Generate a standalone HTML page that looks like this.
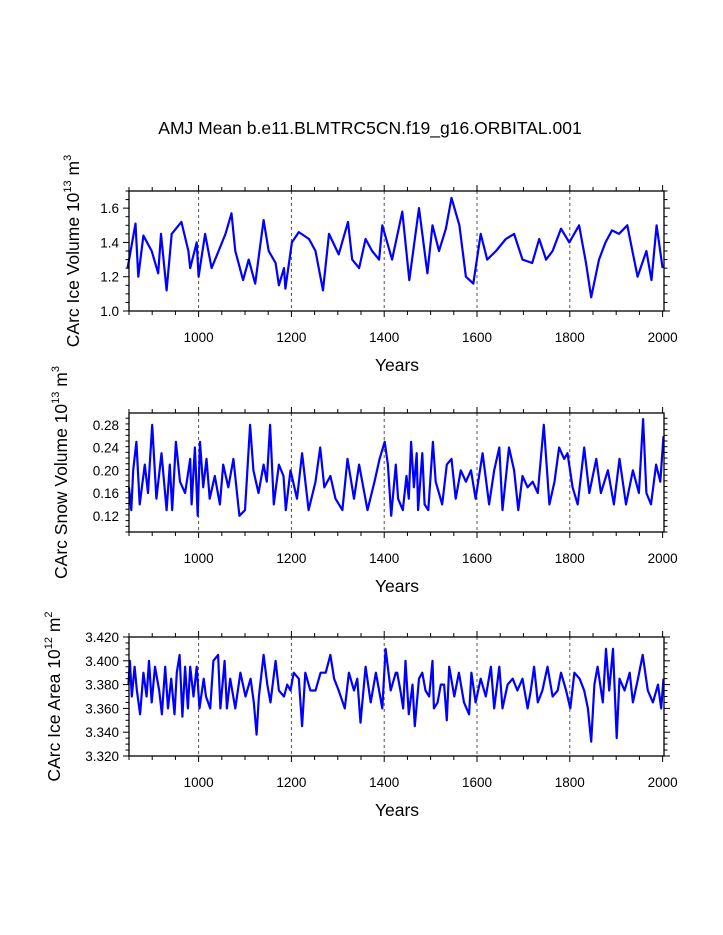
<!DOCTYPE html>
<html><head><meta charset="utf-8">
<style>
html,body{margin:0;padding:0;background:#fff;}
svg{display:block;font-family:"Liberation Sans",Arial,sans-serif;}
</style></head>
<body>
<svg id="chart" width="723" height="935" viewBox="0 0 723 935" xmlns="http://www.w3.org/2000/svg">
<rect x="0" y="0" width="723" height="935" fill="#fff"/>
<text x="370" y="134" font-size="17.5" text-anchor="middle" fill="#000">AMJ Mean b.e11.BLMTRC5CN.f19_g16.ORBITAL.001</text>
</svg>
<script>
// ---- Data: panel 1 (CArc Ice Volume) ----
const iceVolYears = [847,864,870,881,899,913,919,931,942,963,978,982,996,1000,1014,1028,1043,1058,1071,1079,1096,1108,1122,1140,1151,1166,1173,1184,1187,1201,1216,1238,1252,1268,1281,1302,1322,1331,1346,1360,1374,1389,1396,1417,1439,1454,1475,1493,1504,1518,1533,1545,1562,1576,1592,1608,1622,1641,1662,1680,1698,1719,1734,1749,1763,1781,1799,1820,1835,1846,1863,1877,1891,1906,1924,1935,1946,1965,1976,1987,2000];
const iceVolValues = [1.25,1.51,1.2,1.44,1.35,1.22,1.45,1.12,1.45,1.52,1.35,1.25,1.4,1.2,1.45,1.25,1.35,1.45,1.57,1.35,1.18,1.3,1.16,1.53,1.35,1.28,1.15,1.25,1.13,1.4,1.46,1.42,1.35,1.12,1.45,1.33,1.52,1.3,1.25,1.42,1.35,1.3,1.5,1.3,1.58,1.18,1.6,1.22,1.5,1.35,1.48,1.66,1.5,1.2,1.16,1.45,1.3,1.35,1.42,1.45,1.3,1.28,1.42,1.3,1.35,1.48,1.4,1.5,1.28,1.08,1.3,1.4,1.47,1.45,1.5,1.35,1.2,1.35,1.18,1.5,1.25];
// ---- Data: panel 2 (CArc Snow Volume) ----
const snowYears = [850,855,859,866,873,884,891,900,909,920,931,938,943,951,960,971,982,985,992,998,1003,1010,1017,1024,1035,1046,1053,1064,1075,1088,1100,1111,1118,1129,1140,1147,1154,1162,1173,1183,1188,1198,1212,1223,1237,1252,1262,1271,1284,1295,1310,1321,1335,1346,1364,1379,1390,1401,1408,1415,1425,1430,1440,1448,1453,1458,1464,1470,1473,1482,1487,1495,1505,1511,1525,1535,1545,1554,1565,1576,1587,1597,1612,1626,1637,1648,1655,1669,1680,1689,1698,1709,1720,1731,1744,1756,1767,1777,1788,1795,1806,1817,1831,1842,1857,1867,1882,1895,1907,1921,1936,1949,1958,1965,1975,1986,1995,2002];
const snowValues = [0.17,0.13,0.2,0.25,0.14,0.21,0.16,0.28,0.15,0.23,0.13,0.21,0.13,0.25,0.18,0.16,0.22,0.14,0.24,0.12,0.25,0.17,0.22,0.15,0.19,0.14,0.21,0.17,0.22,0.12,0.13,0.28,0.2,0.16,0.21,0.18,0.28,0.14,0.21,0.19,0.13,0.2,0.15,0.23,0.13,0.18,0.24,0.17,0.19,0.15,0.13,0.22,0.15,0.21,0.13,0.18,0.22,0.25,0.21,0.12,0.21,0.15,0.13,0.19,0.15,0.25,0.17,0.23,0.13,0.23,0.14,0.13,0.25,0.18,0.14,0.21,0.22,0.15,0.2,0.18,0.2,0.15,0.23,0.14,0.2,0.24,0.13,0.24,0.2,0.13,0.19,0.17,0.18,0.16,0.28,0.14,0.18,0.24,0.22,0.23,0.17,0.14,0.24,0.16,0.22,0.16,0.2,0.14,0.22,0.14,0.2,0.16,0.29,0.16,0.14,0.21,0.18,0.26];
// ---- Data: panel 3 (CArc Ice Area) ----
const areaYears = [849,852,856,862,867,874,881,888,893,899,906,915,921,928,934,941,948,953,959,965,971,977,982,989,996,1002,1011,1016,1025,1032,1042,1047,1056,1061,1068,1079,1090,1101,1112,1119,1125,1130,1140,1148,1155,1166,1173,1184,1191,1198,1205,1216,1223,1230,1241,1252,1263,1274,1284,1292,1302,1315,1324,1335,1342,1349,1360,1371,1382,1396,1403,1414,1425,1428,1435,1441,1446,1453,1461,1466,1475,1482,1489,1497,1504,1507,1515,1522,1529,1535,1540,1551,1561,1572,1583,1588,1597,1608,1619,1630,1637,1648,1655,1666,1677,1687,1698,1709,1716,1723,1731,1741,1752,1763,1774,1781,1792,1801,1810,1821,1831,1839,1846,1853,1860,1871,1878,1885,1893,1901,1907,1918,1929,1936,1947,1957,1968,1979,1990,1997,2002];
const areaValues = [3.38,3.40,3.37,3.395,3.375,3.355,3.39,3.37,3.40,3.365,3.395,3.375,3.355,3.395,3.36,3.385,3.355,3.39,3.405,3.353,3.395,3.36,3.395,3.37,3.395,3.36,3.385,3.37,3.36,3.40,3.405,3.36,3.40,3.36,3.385,3.36,3.39,3.37,3.385,3.365,3.338,3.37,3.405,3.38,3.365,3.40,3.375,3.37,3.38,3.375,3.39,3.385,3.345,3.39,3.375,3.375,3.39,3.39,3.405,3.385,3.375,3.36,3.39,3.375,3.385,3.348,3.395,3.365,3.39,3.36,3.41,3.375,3.39,3.39,3.375,3.36,3.40,3.355,3.38,3.345,3.385,3.39,3.375,3.37,3.40,3.36,3.365,3.38,3.38,3.35,3.395,3.37,3.39,3.365,3.355,3.39,3.365,3.385,3.37,3.395,3.36,3.395,3.36,3.38,3.385,3.375,3.385,3.36,3.375,3.395,3.365,3.375,3.395,3.37,3.375,3.39,3.375,3.36,3.39,3.385,3.375,3.36,3.332,3.38,3.395,3.365,3.41,3.375,3.41,3.335,3.385,3.375,3.39,3.365,3.385,3.405,3.375,3.365,3.38,3.36,3.385];
const xTickLabels = [1000,1200,1400,1600,1800,2000];
const iceVolTicks = ["1.0","1.2","1.4","1.6"];
const snowTicks = ["0.12","0.16","0.20","0.24","0.28"];
const areaTicks = ["3.320","3.340","3.360","3.380","3.400","3.420"];

const NS = "http://www.w3.org/2000/svg";
const svg = document.getElementById('chart');
function mk(tag, attrs, parent){ const e=document.createElementNS(NS,tag); for(const k in attrs) e.setAttribute(k,attrs[k]); (parent||svg).appendChild(e); return e; }

const X0=129, X1=664, YR0=850, YR1=2003;
function xs(yr){ return X0 + (yr-YR0)/(YR1-YR0)*(X1-X0); }

function panel(cfg){
  const g = mk('g',{});
  
  
  const ys = v => cfg.bot - (v-cfg.ymin)/(cfg.ymax-cfg.ymin)*(cfg.bot-cfg.top);
  xTickLabels.slice(0,5).forEach(t=>{
    const l = mk('line',{x1:xs(t),x2:xs(t),y1:cfg.top,y2:cfg.bot,stroke:'#555','stroke-width':1,'stroke-dasharray':'3,3'},g);
    
    
  });
  let d='';
  cfg.years.forEach((yr,i)=>{ d += (i?'L':'M')+xs(yr).toFixed(1)+','+ys(cfg.values[i]).toFixed(1); });
  const p = mk('path',{d:d,fill:'none',stroke:'#0000ff','stroke-width':2.2,'stroke-linejoin':'round'},g);
  
  
  const fr = mk('rect',{x:X0,y:cfg.top,width:X1-X0,height:cfg.bot-cfg.top,fill:'none',stroke:'#000','stroke-width':1.3},g);
  
  
  for(let yr=850; yr<=2000; yr+=50){
    const major = yr%200===0;
    const L = major?6:4;
    mk('line',{x1:xs(yr),x2:xs(yr),y1:cfg.bot,y2:cfg.bot+L,stroke:'#000','stroke-width':1},g);
    mk('line',{x1:xs(yr),x2:xs(yr),y1:cfg.top,y2:cfg.top-L,stroke:'#000','stroke-width':1},g);
  }
  xTickLabels.forEach(t=>{
    const tx = mk('text',{x:xs(t),y:cfg.bot+31,'font-size':13.5,'text-anchor':'middle'},g);
    tx.textContent = t;
    
    
  });
  const xt = mk('text',{x:397,y:cfg.bot+60,'font-size':17.5,'text-anchor':'middle'},g);
  xt.textContent='Years';
  
  
  for(let v=cfg.ymin; v<=cfg.ymax+1e-9; v+=cfg.minor){
    const isMajor = Math.abs(((v-cfg.majorStart)/cfg.major) - Math.round((v-cfg.majorStart)/cfg.major))<1e-6 && v>=cfg.majorStart-1e-9;
    const L = isMajor?6:3.5;
    mk('line',{x1:X0,x2:X0-L,y1:ys(v),y2:ys(v),stroke:'#000','stroke-width':1},g);
    mk('line',{x1:X1,x2:X1+L,y1:ys(v),y2:ys(v),stroke:'#000','stroke-width':1},g);
  }
  cfg.ticks.forEach(t=>{
    const tx = mk('text',{x:X0-10,y:ys(parseFloat(t))+5,'font-size':13.5,'text-anchor':'end'},g);
    tx.textContent=t;
    
    
  });
  const cy=(cfg.top+cfg.bot)/2;
  const yt = mk('text',{x:0,y:0,'font-size':17.5,'text-anchor':'middle',transform:'translate('+cfg.titleX+','+cy+') rotate(-90)'},g);
  
  
  yt.innerHTML = cfg.title+' 10<tspan font-size="11" dy="-8">'+cfg.exp+'</tspan><tspan dy="8"> m</tspan><tspan font-size="11" dy="-8">'+cfg.unitExp+'</tspan>';
}

panel({name:'ice-volume',top:191,bot:311,ymin:1.0,ymax:1.7,minor:0.05,major:0.2,majorStart:1.0,ticks:iceVolTicks,years:iceVolYears,values:iceVolValues,title:'CArc Ice Volume',exp:'13',unitExp:'3',titleX:79});
panel({name:'snow-volume',top:413,bot:532,ymin:0.0915,ymax:0.3007,minor:0.01,major:0.04,majorStart:0.12,ticks:snowTicks,years:snowYears,values:snowValues,title:'CArc Snow Volume',exp:'13',unitExp:'3',titleX:67});
panel({name:'ice-area',top:637,bot:756,ymin:3.32,ymax:3.42,minor:0.005,major:0.02,majorStart:3.32,ticks:areaTicks,years:areaYears,values:areaValues,title:'CArc Ice Area',exp:'12',unitExp:'2',titleX:60});
</script>
</body></html>
